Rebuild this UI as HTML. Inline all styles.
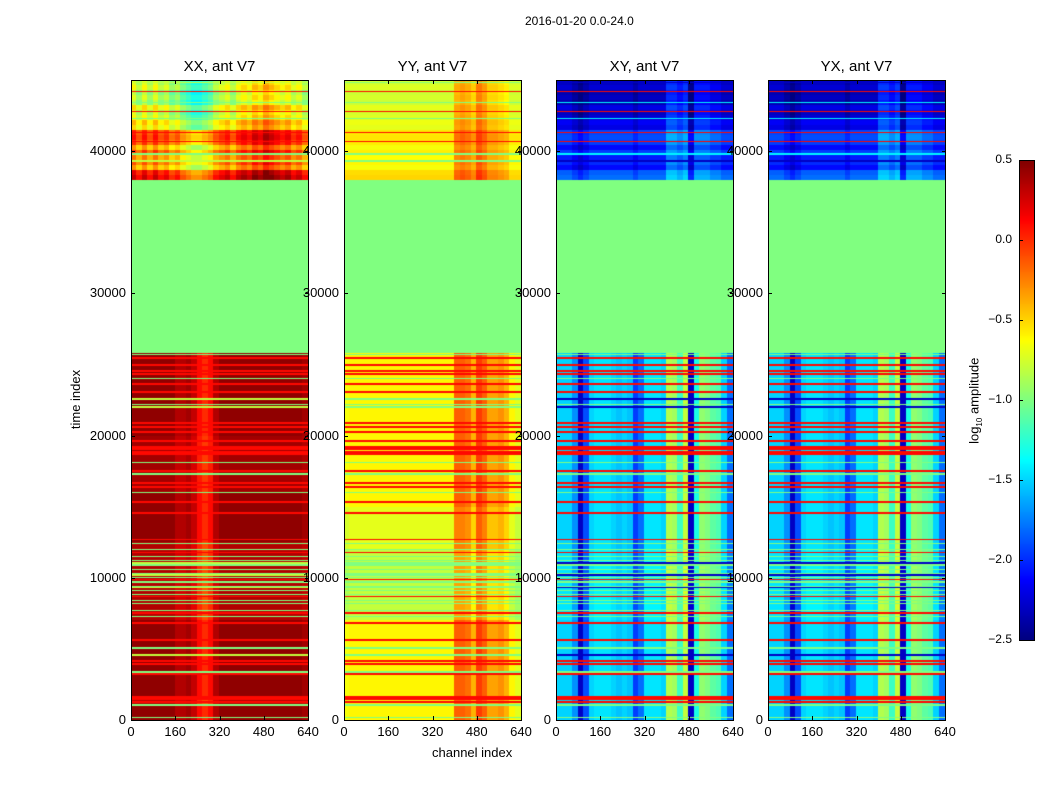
<!DOCTYPE html>
<html><head><meta charset="utf-8">
<style>
body{margin:0;background:#fff;font-family:"Liberation Sans","DejaVu Sans",sans-serif;}
#wrap{position:relative;width:1050px;height:800px;background:#fff;overflow:hidden}
.t{position:absolute;font-size:13px;color:#000;white-space:nowrap}
canvas{position:absolute}
.frame{position:absolute;border:1px solid #000;box-sizing:border-box}
.tk{position:absolute;background:#000}
</style></head><body>
<div id="wrap">
<div class="t" style="left:525px;top:14px;font-size:12px">2016-01-20 0.0-24.0</div>
<div class="t" style="left:46px;top:392px;transform:rotate(-90deg);transform-origin:center">time index</div>
<div class="t" style="left:432px;top:745px">channel index</div>
<div class="t" style="left:932px;top:392px;transform:rotate(-90deg);transform-origin:center">log<sub style="font-size:8px">10</sub> amplitude</div>
</div>
<script>
// ---- data ----
const panelTitles = ["XX, ant V7","YY, ant V7","XY, ant V7","YX, ant V7"];
const xTicks = [0,160,320,480,640];
const yTicks = [0,10000,20000,30000,40000];
const cbTicks = [0.5,0.0,-0.5,-1.0,-1.5,-2.0,-2.5];
// channel profiles, 32 bins of 20 channels (log10 amplitude)
const profXX = [0.45,0.45,0.45,0.45,0.45,0.45,0.45,0.45,0.35,0.35,0.4,0.3,0.1,0.0,0.1,0.35,0.45,0.45,0.45,0.45,0.45,0.45,0.45,0.45,0.45,0.45,0.45,0.45,0.45,0.45,0.45,0.4];
const profYY = [-0.65,-0.6,-0.6,-0.6,-0.6,-0.6,-0.6,-0.6,-0.6,-0.6,-0.6,-0.6,-0.6,-0.6,-0.6,-0.6,-0.6,-0.6,-0.6,-0.6,-0.15,-0.15,-0.2,-0.4,-0.05,-0.15,-0.35,-0.35,-0.3,-0.4,-0.6,-0.7];
const profXY = [-1.5,-1.5,-1.5,-1.7,-2.3,-1.9,-1.5,-1.45,-1.45,-1.45,-1.5,-1.55,-1.5,-1.55,-1.95,-1.8,-1.45,-1.45,-1.45,-1.5,-0.85,-0.9,-1.2,-0.8,-2.3,-1.3,-0.95,-1.0,-1.1,-1.15,-1.5,-1.8];
const profYX = [-1.5,-1.5,-1.5,-1.7,-2.3,-1.9,-1.5,-1.45,-1.45,-1.45,-1.5,-1.55,-1.5,-1.55,-1.95,-1.8,-1.45,-1.45,-1.45,-1.5,-0.85,-0.9,-1.2,-0.8,-2.3,-1.3,-0.95,-1.0,-1.1,-1.15,-1.5,-1.8];
// profiles in the top (38000-45000) block
const topXX = [-0.3,-0.5,-0.3,-0.5,-0.3,-0.5,-0.4,-0.6,-0.5,-0.7,-0.8,-0.9,-0.9,-0.8,-0.7,-0.5,-0.4,-0.3,-0.5,-0.3,-0.2,-0.3,-0.1,-0.2,0.0,-0.1,-0.2,-0.3,-0.2,-0.4,-0.3,-0.5];
const topYY = [-0.65,-0.65,-0.65,-0.65,-0.65,-0.65,-0.65,-0.65,-0.65,-0.65,-0.65,-0.65,-0.65,-0.65,-0.65,-0.65,-0.65,-0.65,-0.65,-0.65,-0.3,-0.25,-0.3,-0.4,-0.15,-0.25,-0.4,-0.4,-0.45,-0.5,-0.65,-0.65];
const topXY = [-2.1,-2.1,-2.1,-2.2,-2.3,-2.2,-2.1,-2.1,-2.1,-2.1,-2.1,-2.1,-2.1,-2.1,-2.2,-2.1,-2.1,-2.1,-2.1,-2.1,-1.8,-1.8,-1.9,-1.8,-2.3,-1.9,-1.9,-1.9,-2.0,-2.0,-2.1,-2.1];
const topYX = [-2.1,-2.1,-2.1,-2.2,-2.3,-2.2,-2.1,-2.1,-2.1,-2.1,-2.1,-2.1,-2.1,-2.1,-2.2,-2.1,-2.1,-2.1,-2.1,-2.1,-1.8,-1.8,-1.9,-1.8,-2.3,-1.9,-1.9,-1.9,-2.0,-2.0,-2.1,-2.1];
// top block row offsets: rows of 350 from t=38000 upward
const topRows = [0.6,0.5,0.0,0.2,0.1,0.3,0.0,0.3,0.4,0.35,-0.2,-0.1,-0.3,-0.4,-0.2,-0.5,-0.4,-0.5,-0.3,-0.4];
// lower block segments [tStart, tEnd, offset]
const segsXX = [[0,1000,0],[1000,1600,-0.1],[1600,7000,0],[7000,12500,-0.1],[12500,16000,0],[16000,20000,-0.05],[20000,25800,0]];
const segsYY = [[0,7000,0],[7000,12000,-0.2],[12000,15000,-0.1],[15000,25800,0]];
const segsXY = [[0,7000,0],[7000,12000,0.05],[12000,25800,0]];
const segsYX = [[0,7000,0],[7000,12000,0.05],[12000,25800,0]];
const gapStart = 25800, gapEnd = 38000, gapValue = -1.0;
// flagged rows (time index)
const redStripes = [25450,24960,24540,24330,23620,23060,20880,20600,20250,19620,19200,19060,18850,18700,17500,16660,16380,15320,14550,12700,11800,9900,8700,7520,6820,5620,4150,3940,3230,1620,1480,1270,41300,40700,42800,44200];
const greenStripes = [25700,24000,22200,18100,17300,16000,12400,12000,11500,11200,10900,10600,10300,10000,9700,9400,9100,8800,8400,8200,7700,7300,5060,3370,1050,200,43400,42300,39800];
const blueStripes = [22570,22000,11040,10200,9300,4570,44800,39300];
const stripeWidth = 90;

const profs=[profXX,profYY,profXY,profYX], tops=[topXX,topYY,topXY,topYX], segs=[segsXX,segsYY,segsXY,segsYX];
const panelX=[131,344,556,768], PW=177, PY=80, PH=640, TMAX=45000, CMAX=640;
const yScale = t => PY+PH - t/TMAX*PH;
const xScale = c => c/CMAX*PW;

function jet(v){
  let x=(v+2.5)/3; x=Math.max(0,Math.min(1,x));
  const f=a=>Math.max(0,Math.min(1,a));
  const r=f(1.5-Math.abs(4*x-3)), g=f(1.5-Math.abs(4*x-2)), b=f(1.5-Math.abs(4*x-1));
  return `rgb(${Math.round(r*255)},${Math.round(g*255)},${Math.round(b*255)})`;
}
function near(list,t){return list.some(s=>Math.abs(s-t)<stripeWidth/2);}
function value(p,t,bin){
  if(t>=gapStart && t<gapEnd) return gapValue;
  if(near(blueStripes,t)) return (p>=2)?-2.3:(p==0?-0.8:-1.0);
  if(near(redStripes,t)) return 0.1;
  if(near(greenStripes,t)) return (t>=gapEnd && p>=2)?-1.4:-1.0;
  if(t>=gapEnd){
    const r=Math.min(topRows.length-1,Math.floor((t-gapEnd)/350));
    const sc=[1,0.25,0.5,0.5][p];
    return tops[p][bin]+topRows[r]*sc;
  }
  let off=0; for(const s of segs[p]) if(t>=s[0]&&t<s[1]) off=s[2];
  return profs[p][bin]+off;
}
const wrap=document.getElementById('wrap');
function addText(txt,x,y,extra){
  const d=document.createElement('div');d.className='t';d.textContent=txt;
  d.style.cssText+=`left:${x}px;top:${y}px;`+(extra||'');
  wrap.appendChild(d);return d;
}
panelX.forEach((px,p)=>{
  const cv=document.createElement('canvas');
  cv.width=PW;cv.height=PH;cv.style.left=px+'px';cv.style.top=PY+'px';
  
  
  wrap.appendChild(cv);
  const ctx=cv.getContext('2d');
  const nb=profs[p].length;
  for(let py=0;py<PH;py++){
    const t=(PH-py-0.5)/PH*TMAX;
    for(let b=0;b<nb;b++){
      const x0=xScale(b*CMAX/nb), x1=xScale((b+1)*CMAX/nb);
      ctx.fillStyle=jet(value(p,t,b));
      ctx.fillRect(Math.floor(x0),py,Math.ceil(x1)-Math.floor(x0),1);
    }
  }
  const fr=document.createElement('div');fr.className='frame';
  fr.style.cssText=`left:${px}px;top:${PY}px;width:${PW+1}px;height:${PH+1}px`;
  
  
  wrap.appendChild(fr);
  const ti=addText(panelTitles[p],px+PW/2,58,'font-size:15px;transform:translateX(-50%)');
  
  
  xTicks.forEach(c=>{
    const x=px+xScale(c);
    [[PY+PH-4],[PY]].forEach(([ty])=>{const k=document.createElement('div');k.className='tk';k.style.cssText=`left:${x}px;top:${ty}px;width:1px;height:4px`;wrap.appendChild(k);});
    const l=addText(String(c),x,724,'transform:translateX(-50%)');
    
    
  });
  yTicks.forEach(v=>{
    const y=yScale(v);
    [[px],[px+PW-3]].forEach(([tx])=>{const k=document.createElement('div');k.className='tk';k.style.cssText=`left:${tx}px;top:${y}px;width:4px;height:1px`;wrap.appendChild(k);});
    const l=addText(String(v),px-5,y-8,'transform:translateX(-100%)');
    
    
  });
});
// colorbar
const cb=document.createElement('canvas');cb.width=15;cb.height=480;cb.style.left='1019px';cb.style.top='160px';


wrap.appendChild(cb);
const cx=cb.getContext('2d');
for(let i=0;i<480;i++){cx.fillStyle=jet(0.5-(i+0.5)/480*3);cx.fillRect(0,i,15,1);}
const cf=document.createElement('div');cf.className='frame';cf.style.cssText='left:1019px;top:160px;width:16px;height:481px';


wrap.appendChild(cf);
cbTicks.forEach(v=>{
  const y=160+(0.5-v)/3*480;
  const k=document.createElement('div');k.className='tk';k.style.cssText=`left:1019px;top:${y}px;width:4px;height:1px`;wrap.appendChild(k);
  const l=addText((v<0?'\u2212':'')+Math.abs(v).toFixed(1),1012,y-8,'font-size:12px;transform:translateX(-100%)');
  
  
});
</script>
</body></html>
